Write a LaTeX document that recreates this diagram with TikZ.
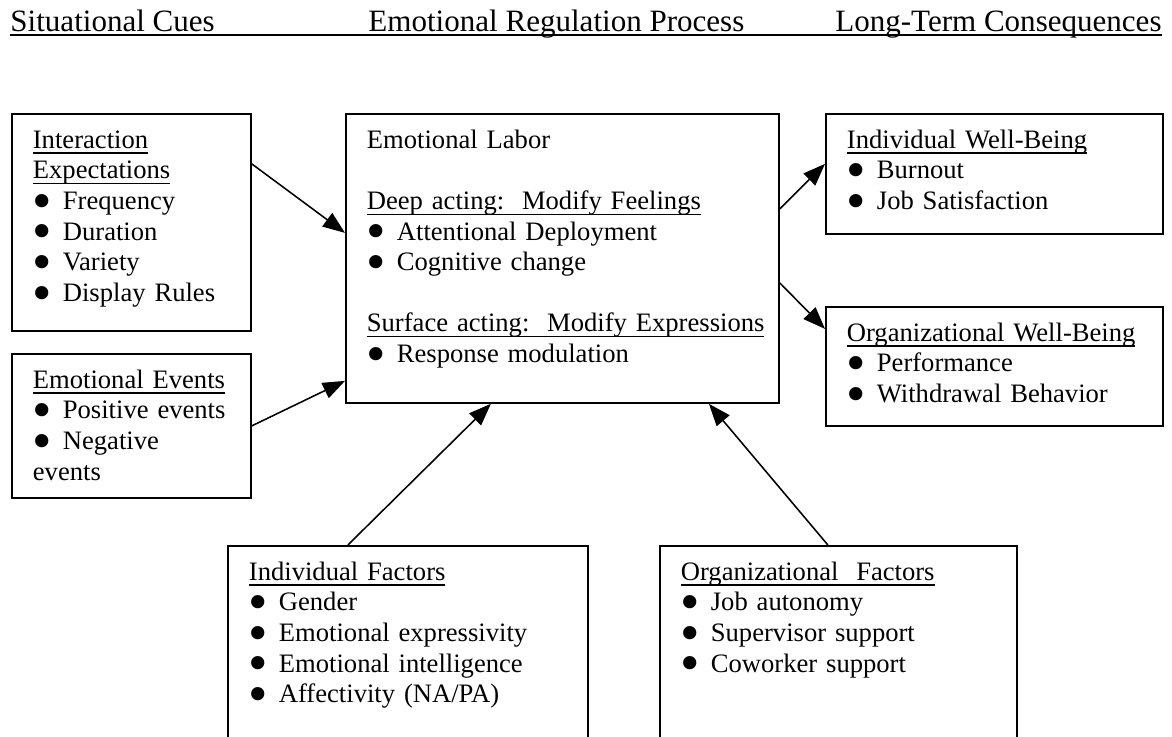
\documentclass[tikz,border=0pt]{standalone}
\usepackage{fontspec}
\setmainfont{Liberation Serif}
\usetikzlibrary{arrows.meta}

\newlength{\px}
\setlength{\px}{0.451pt}
\newsavebox{\ulbox}
\newcommand{\ulined}[1]{\leavevmode\sbox{\ulbox}{#1}\rlap{\rule[-2.4pt]{\wd\ulbox}{0.6pt}}\usebox{\ulbox}}
\newcommand{\itm}{\leavevmode\makebox[30\px][l]{\raisebox{-4.4pt}{\fontsize{25}{25}\selectfont\textbullet}}}

\begin{document}
\begin{tikzpicture}[
    x=0.451pt,y=-0.451pt,
    head/.style={inner sep=0pt,font=\fontsize{14}{16}\selectfont},
    panel/.style={draw,line width=0.8pt,anchor=north west,inner xsep=21\px,
                  inner ysep=0pt,align=left,text height=34.5\px,
                  font=\fontsize{12}{13.8}\selectfont},
    arr/.style={-{Triangle[length=10pt,width=7.5pt]},line width=0.7pt},
  ]
    \useasboundingbox (0,0) rectangle (1172,736);
    \clip (0,0) rectangle (1172,736);

    % column headings
    \node[head,anchor=base west] (cues)   at (10,31)   {Situational Cues};
    \node[head,anchor=base west] (regul)  at (368,31)  {Emotional Regulation Process};
    \node[head,anchor=base east] (conseq) at (1162,31) {Long-Term Consequences};
    \draw[line width=0.9pt] ([yshift=-1.6pt]cues.base west) -- ([yshift=-1.6pt]conseq.base east);

    \node[panel,text width=197\px,text depth=182.5\px] (inter) at (11,113)
      {\ulined{Interaction}\\ \ulined{Expectations}\\
       \itm Frequency\\ \itm Duration\\ \itm Variety\\ \itm Display Rules};
    \node[panel,text width=197\px,text depth=109.5\px] (events) at (11,353)
      {\ulined{Emotional Events}\\ \itm Positive events\\ \itm Negative\\ events};
    \node[panel,text width=391\px,text depth=254.5\px] (labor) at (345,113)
      {Emotional Labor\\[13.8pt]
       \ulined{Deep acting:\ \ Modify Feelings}\\
       \itm Attentional Deployment\\ \itm Cognitive change\\[13.8pt]
       \ulined{Surface acting:\ \ Modify Expressions}\\
       \itm Response modulation};
    \node[panel,text width=295\px,text depth=85.5\px] (indiv) at (825,113)
      {\ulined{Individual Well-Being}\\ \itm Burnout\\ \itm Job Satisfaction};
    \node[panel,text width=295\px,text depth=84.5\px] (orgwb) at (825,306)
      {\ulined{Organizational Well-Being}\\ \itm Performance\\ \itm Withdrawal Behavior};
    \node[panel,text width=318\px,text depth=225.5\px] (indfac) at (227,545)
      {\ulined{Individual Factors}\\ \itm Gender\\ \itm Emotional expressivity\\
       \itm Emotional intelligence\\ \itm Affectivity (NA/PA)};
    \node[panel,text width=315\px,text depth=225.5\px] (orgfac) at (659,545)
      {\ulined{Organizational\ \ Factors}\\ \itm Job autonomy\\
       \itm Supervisor support\\ \itm Coworker support};

    \draw[arr] ([yshift=58.5\px]inter.east) -- ([yshift=25.5\px]labor.west);
    \draw[arr] (events.east) -- ([yshift=-122.5\px]labor.west);
    \draw[arr] ([yshift=49.5\px]labor.east) -- ([yshift=10\px]indiv.west);
    \draw[arr] ([yshift=-24.5\px]labor.east) -- ([yshift=37.5\px]orgwb.west);
    \draw[arr] ([xshift=-60\px]indfac.north) -- ([xshift=-71.5\px]labor.south);
    \draw[arr] ([xshift=-10.5\px]orgfac.north) -- ([xshift=146.5\px]labor.south);
  \end{tikzpicture}
\end{document}
